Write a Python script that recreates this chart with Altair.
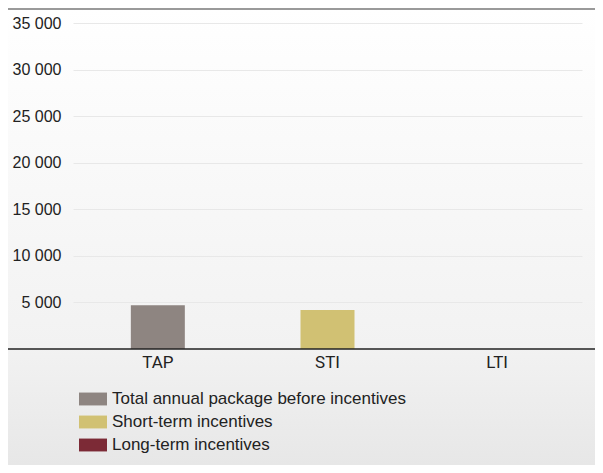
import altair as alt
import pandas as pd

categories = ["TAP", "STI", "LTI"]
values = [4700, 4200, 0]
series_names = [
    "Total annual package before incentives",
    "Short-term incentives",
    "Long-term incentives",
]
colors = ["#8e8581", "#d1c173", "#7c2a36"]
y_ticks = [5000, 10000, 15000, 20000, 25000, 30000, 35000]

df = pd.DataFrame({"cat": categories, "value": values, "series": series_names})
one = pd.DataFrame({"a": [0]})

W, H = 529, 326
PL, PT = 58, 15
TOTAL_W, TOTAL_H = 587, 457

bg = alt.Chart(one).mark_rect(
    fill=alt.Gradient(
        gradient="linear",
        stops=[
            alt.GradientStop(color="#ffffff", offset=0),
            alt.GradientStop(color="#f2f2f2", offset=0.74),
            alt.GradientStop(color="#e7e7e7", offset=1),
        ],
        x1=0, x2=0, y1=0, y2=1,
    )
).encode(
    x=alt.value(-PL), x2=alt.value(TOTAL_W - PL),
    y=alt.value(-PT), y2=alt.value(TOTAL_H - PT),
)

top_line = alt.Chart(one).mark_rule(color="#9a9a9a", strokeWidth=2).encode(
    x=alt.value(-PL), x2=alt.value(W), y=alt.value(-PT + 1)
)

bars = alt.Chart(df).mark_bar(size=54).encode(
    x=alt.X(
        "cat:N", sort=categories,
        scale=alt.Scale(range=[7, 516], paddingInner=0, paddingOuter=0),
        axis=alt.Axis(
            title=None, labelAngle=0, domain=False, ticks=False,
            labelFont="Roboto", labelFontSize=17,
            labelColor="#222222", labelPadding=5, zindex=1,
        ),
    ),
    y=alt.Y(
        "value:Q",
        scale=alt.Scale(domain=[0, 35000], nice=False),
        axis=alt.Axis(
            title=None, values=y_ticks,
            labelExpr="replace(format(datum.value, ','), ',', ' ')",
            domain=False, ticks=False, gridColor="#e8e8e8", gridWidth=1,
            labelFont="Liberation Sans", labelFontSize=16,
            labelColor="#222222", labelPadding=5, zindex=1,
        ),
    ),
    color=alt.Color(
        "series:N",
        scale=alt.Scale(domain=series_names, range=colors),
        sort=series_names,
        legend=alt.Legend(
            title=None, orient="none", legendX=13, legendY=362,
            symbolType="M-1,-0.46H1V0.46H-1Z", symbolSize=784,
            symbolStrokeWidth=0, symbolOpacity=1,
            labelFont="Liberation Sans", labelFontSize=17, labelLimit=0,
            labelColor="#222222", labelOffset=5, padding=0, rowPadding=1,
        ),
    ),
)

base_line = alt.Chart(one).mark_rule(color="#222222", strokeWidth=1.5).encode(
    x=alt.value(-PL), x2=alt.value(W), y=alt.datum(0)
)

chart = alt.layer(bg, top_line, bars, base_line).properties(
    width=W, height=H,
    autosize=alt.AutoSizeParams(type="none"),
    padding={"left": PL, "top": PT, "right": 0, "bottom": TOTAL_H - PT - H},
).configure_view(stroke=None)

chart.save("out.html", embed_options={"renderer": "svg", "actions": False})
